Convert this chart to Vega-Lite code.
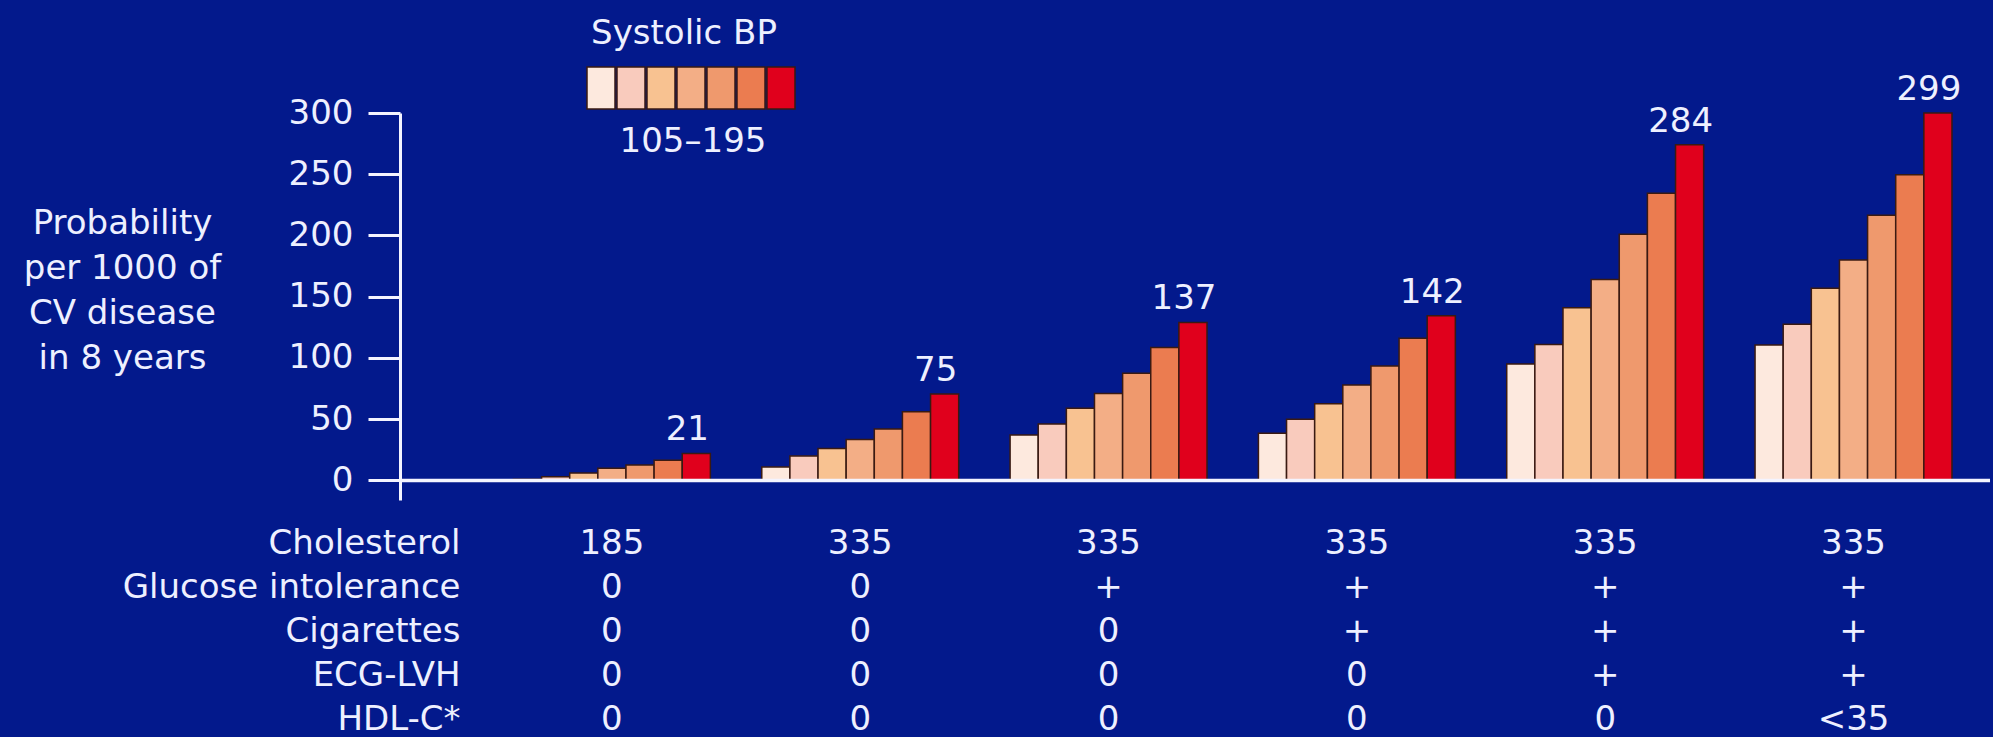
{
  "$schema": "https://vega.github.io/schema/vega-lite/v6.json",
  "autosize": {"type": "none"},
  "padding": {"left": 400, "top": 113, "right": 3, "bottom": 237},
  "width": 1590,
  "height": 387,
  "background": "#03198c",
  "title": {"text": "Systolic BP", "anchor": "start", "align": "center", "dx": 284, "offset": -12, "baseline": "bottom", "frame": "group", "color": "#eef0ff", "font": "DejaVu Sans", "fontSize": 34, "fontWeight": "normal"},
  "config": {"view": {"stroke": null}, "font": "DejaVu Sans"},
  "data": {"values": [
    {"profile": "185|0|0|0|0", "sbp": 105, "risk": 1},
    {"profile": "185|0|0|0|0", "sbp": 120, "risk": 3},
    {"profile": "185|0|0|0|0", "sbp": 135, "risk": 6},
    {"profile": "185|0|0|0|0", "sbp": 150, "risk": 10},
    {"profile": "185|0|0|0|0", "sbp": 165, "risk": 12.5},
    {"profile": "185|0|0|0|0", "sbp": 180, "risk": 16.5},
    {"profile": "185|0|0|0|0", "sbp": 195, "risk": 22, "label": "21"},
    {"profile": "335|0|0|0|0", "sbp": 105, "risk": 11},
    {"profile": "335|0|0|0|0", "sbp": 120, "risk": 20},
    {"profile": "335|0|0|0|0", "sbp": 135, "risk": 26},
    {"profile": "335|0|0|0|0", "sbp": 150, "risk": 33.5},
    {"profile": "335|0|0|0|0", "sbp": 165, "risk": 42},
    {"profile": "335|0|0|0|0", "sbp": 180, "risk": 56},
    {"profile": "335|0|0|0|0", "sbp": 195, "risk": 70.5, "label": "75"},
    {"profile": "335|+|0|0|0", "sbp": 105, "risk": 37},
    {"profile": "335|+|0|0|0", "sbp": 120, "risk": 46},
    {"profile": "335|+|0|0|0", "sbp": 135, "risk": 59},
    {"profile": "335|+|0|0|0", "sbp": 150, "risk": 71},
    {"profile": "335|+|0|0|0", "sbp": 165, "risk": 87.5},
    {"profile": "335|+|0|0|0", "sbp": 180, "risk": 108.5},
    {"profile": "335|+|0|0|0", "sbp": 195, "risk": 129, "label": "137"},
    {"profile": "335|+|+|0|0", "sbp": 105, "risk": 38.5},
    {"profile": "335|+|+|0|0", "sbp": 120, "risk": 50},
    {"profile": "335|+|+|0|0", "sbp": 135, "risk": 62.5},
    {"profile": "335|+|+|0|0", "sbp": 150, "risk": 78},
    {"profile": "335|+|+|0|0", "sbp": 165, "risk": 93.5},
    {"profile": "335|+|+|0|0", "sbp": 180, "risk": 116},
    {"profile": "335|+|+|0|0", "sbp": 195, "risk": 134.5, "label": "142"},
    {"profile": "335|+|+|+|0", "sbp": 105, "risk": 95},
    {"profile": "335|+|+|+|0", "sbp": 120, "risk": 111},
    {"profile": "335|+|+|+|0", "sbp": 135, "risk": 141},
    {"profile": "335|+|+|+|0", "sbp": 150, "risk": 164},
    {"profile": "335|+|+|+|0", "sbp": 165, "risk": 201},
    {"profile": "335|+|+|+|0", "sbp": 180, "risk": 234.5},
    {"profile": "335|+|+|+|0", "sbp": 195, "risk": 274, "label": "284"},
    {"profile": "335|+|+|+|<35", "sbp": 105, "risk": 110.5},
    {"profile": "335|+|+|+|<35", "sbp": 120, "risk": 127.5},
    {"profile": "335|+|+|+|<35", "sbp": 135, "risk": 157},
    {"profile": "335|+|+|+|<35", "sbp": 150, "risk": 180},
    {"profile": "335|+|+|+|<35", "sbp": 165, "risk": 216.5},
    {"profile": "335|+|+|+|<35", "sbp": 180, "risk": 249.5},
    {"profile": "335|+|+|+|<35", "sbp": 195, "risk": 300, "label": "299"}
  ]},
  "layer": [
    {
      "mark": {"type": "bar", "stroke": "#3a1a12", "strokeWidth": 1.5},
      "encoding": {
        "x": {
          "field": "profile", "type": "nominal", "sort": null,
          "scale": {"paddingInner": 0.207, "paddingOuter": 0.305, "align": 0.749},
          "axis": {
            "orient": "bottom", "domain": false, "ticks": false, "grid": false,
            "labelExpr": "split(datum.label, '|')", "labelAngle": 0,
            "labelBaseline": "middle", "labelPadding": 43, "labelLineHeight": 44,
            "labelFont": "DejaVu Sans", "labelFontSize": 34, "labelColor": "#eef0ff",
            "labelOverlap": false, "labelBound": false, "labelFlush": false, "labelLimit": 400,
            "title": ["Cholesterol", "Glucose intolerance", "Cigarettes", "ECG-LVH", "HDL-C*"],
            "titleX": 60, "titleY": 43, "titleAlign": "right", "titleBaseline": "middle",
            "titleLineHeight": 44, "titleFont": "DejaVu Sans", "titleFontSize": 34,
            "titleFontWeight": "normal", "titleColor": "#eef0ff", "titleAngle": 0
          }
        },
        "xOffset": {"field": "sbp", "type": "ordinal", "scale": {"paddingInner": 0, "paddingOuter": 0}},
        "y": {
          "field": "risk", "type": "quantitative",
          "scale": {"domain": [-16, 300], "nice": false, "zero": false},
          "axis": {
            "values": [0, 50, 100, 150, 200, 250, 300], "grid": false,
            "domainColor": "#f4f4ff", "domainWidth": 3,
            "tickColor": "#f4f4ff", "tickWidth": 3, "tickSize": 32,
            "labelPadding": 15, "labelFont": "DejaVu Sans", "labelFontSize": 34, "labelColor": "#eef0ff",
            "title": ["Probability", "per 1000 of", "CV disease", "in 8 years"],
            "titleAngle": 0, "titleX": -278, "titleY": 110, "titleAlign": "center",
            "titleBaseline": "middle", "titleLineHeight": 45, "titleFont": "DejaVu Sans",
            "titleFontSize": 34, "titleFontWeight": "normal", "titleColor": "#eef0ff"
          }
        },
        "color": {
          "field": "sbp", "type": "ordinal",
          "scale": {"range": ["#fde9de", "#f9cbbd", "#f8c291", "#f3ae86", "#ef996d", "#eb7c50", "#e0001c"]},
          "legend": {
            "orient": "none", "legendX": 188, "legendY": -38.5, "direction": "horizontal", "columns": 7,
            "title": "105–195", "titleOrient": "bottom", "titleAnchor": "middle", "titleAlign": "center",
            "titlePadding": 12, "titleBaseline": "top", "titleColor": "#eef0ff", "titleFont": "DejaVu Sans",
            "titleFontSize": 34, "titleFontWeight": "normal",
            "labelExpr": "''", "labelOffset": 0, "labelFontSize": 1, "columnPadding": -8, "rowPadding": 0, "padding": 0,
            "symbolType": "M-1.143,-1.715H1.143V1.715H-1.143Z", "symbolSize": 600,
            "symbolStrokeColor": "#3a1a12", "symbolStrokeWidth": 1.5, "symbolOpacity": 1
          }
        }
      }
    },
    {
      "data": {"values": [{"risk": 0}]},
      "mark": {"type": "rule", "color": "#f4f4ff", "strokeWidth": 3.5},
      "encoding": {"y": {"field": "risk", "type": "quantitative"}}
    },
    {
      "transform": [{"filter": "datum.label != null"}],
      "mark": {"type": "text", "dx": -9, "dy": -13, "baseline": "alphabetic", "align": "center", "font": "DejaVu Sans", "fontSize": 34, "color": "#eef0ff"},
      "encoding": {
        "x": {"field": "profile", "type": "nominal", "sort": null},
        "xOffset": {"field": "sbp", "type": "ordinal"},
        "y": {"field": "risk", "type": "quantitative"},
        "text": {"field": "label"}
      }
    }
  ]
}
